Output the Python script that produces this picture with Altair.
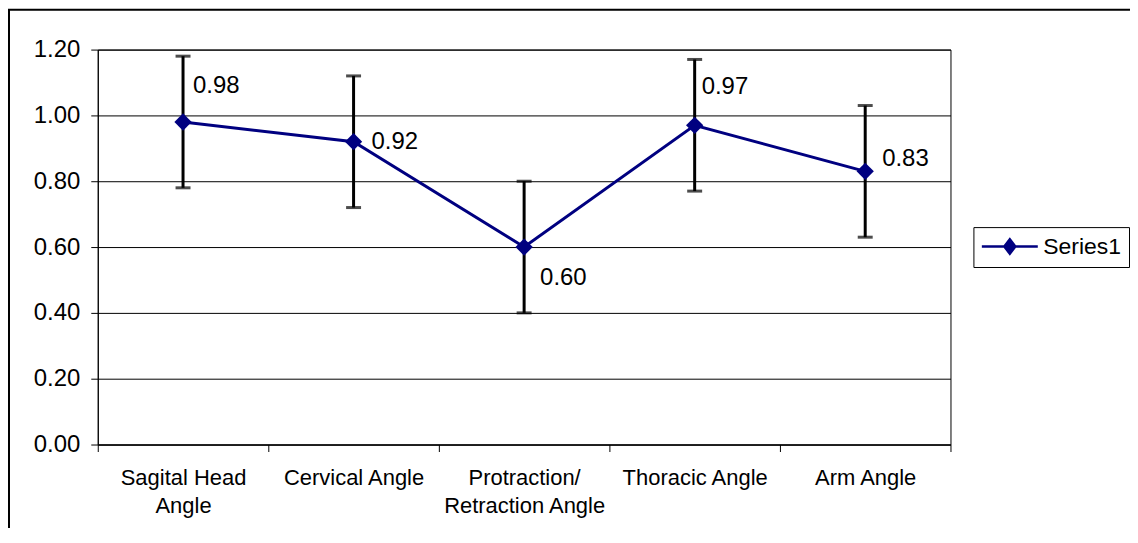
import altair as alt
import pandas as pd

# ---- data ----
categories = ["Sagital Head|Angle", "Cervical Angle", "Protraction/|Retraction Angle",
              "Thoracic Angle", "Arm Angle"]
values = [0.98, 0.92, 0.60, 0.97, 0.83]
errors = [0.20, 0.20, 0.20, 0.20, 0.20]
value_labels = ["0.98", "0.92", "0.60", "0.97", "0.83"]
series_name = "Series1"
y_ticks = [0.0, 0.2, 0.4, 0.6, 0.8, 1.0, 1.2]

df = pd.DataFrame({
    "category": categories,
    "value": values,
    "error": errors,
    "label": value_labels,
    "series": [series_name] * len(categories),
})
df["lo"] = df["value"] - df["error"]
df["hi"] = df["value"] + df["error"]

FONT = "Liberation Sans"
NAVY = "#000080"

# label offsets (pixels) for each data label, as placed in the reference
label_offsets = [(10, -36), (18, 0), (16, 31), (7, -38), (17, -12)]

x_axis = alt.Axis(title=None, labelAngle=0, labelExpr="split(datum.label, '|')",
                  tickBand="extent", tickSize=7, tickColor="black", domainColor="black",
                  labelFontSize=22, labelColor="black", labelPadding=16,
                  labelLineHeight=28, labelBaseline="top", grid=False)
y_axis = alt.Axis(title=None, values=y_ticks, format=".2f", tickSize=7, labelPadding=11,
                  tickColor="black", domainColor="black", gridColor="black", gridWidth=1,
                  grid=True, labelFontSize=24, labelColor="black")

x_enc = alt.X("category:N", sort=categories,
              scale=alt.Scale(type="band", paddingInner=0, paddingOuter=0), axis=x_axis)
y_scale = alt.Scale(domain=[0, 1.2], nice=False, zero=True)

base = alt.Chart(df)

frame = alt.Chart(alt.Data(values=[{}])).mark_rect(
    fill="transparent", stroke="black", strokeWidth=2
).encode(x=alt.value(-89), x2=alt.value(1300), y=alt.value(-40), y2=alt.value(700))

rules = base.mark_rule(color="black", strokeWidth=3).encode(
    x=x_enc,
    y=alt.Y("lo:Q", scale=y_scale, axis=y_axis),
    y2="hi:Q",
)
cap_lo = base.mark_tick(color="black", size=15, thickness=3).encode(
    x=x_enc, y=alt.Y("lo:Q", scale=y_scale, axis=y_axis))
cap_hi = base.mark_tick(color="black", size=15, thickness=3).encode(
    x=x_enc, y=alt.Y("hi:Q", scale=y_scale, axis=y_axis))

line = base.mark_line(color=NAVY, strokeWidth=3).encode(
    x=x_enc, y=alt.Y("value:Q", scale=y_scale, axis=y_axis))

legend_symbol = "M-3.3,0L3.3,0M0,-0.85L0.65,0L0,0.85L-0.65,0Z"
points = base.mark_point(shape="diamond", filled=True, size=300, opacity=1).encode(
    x=x_enc,
    y=alt.Y("value:Q", scale=y_scale, axis=y_axis),
    color=alt.Color("series:N", scale=alt.Scale(range=[NAVY]),
                    legend=alt.Legend(title=None, orient="none", legendX=878, legendY=178,
                                      symbolType=legend_symbol, symbolSize=289,
                                      symbolStrokeWidth=2.5, symbolFillColor=NAVY,
                                      symbolStrokeColor=NAVY, symbolOpacity=1,
                                      symbolOffset=17, labelOffset=22,
                                      labelFontSize=23, labelColor="black", labelFont=FONT,
                                      strokeColor="black", fillColor="white", padding=8)),
)

texts = []
for i, cat in enumerate(categories):
    dx, dy = label_offsets[i]
    texts.append(
        base.transform_filter(alt.datum.category == cat).mark_text(
            align="left", baseline="middle", fontSize=24, color="black", font=FONT,
            dx=dx, dy=dy
        ).encode(x=x_enc, y=alt.Y("value:Q", scale=y_scale, axis=y_axis), text="label:N")
    )

chart = alt.layer(frame, rules, cap_lo, cap_hi, line, points, *texts).properties(
    width=855, height=396,
    autosize=alt.AutoSizeParams(type="none"),
    padding={"left": 90, "top": 41, "right": 180, "bottom": 83},
).configure_view(stroke="black", strokeWidth=1).configure_axis(
    labelFont=FONT
).configure_text(font=FONT)

chart.save("out.html", embed_options={"renderer": "svg", "actions": False})
